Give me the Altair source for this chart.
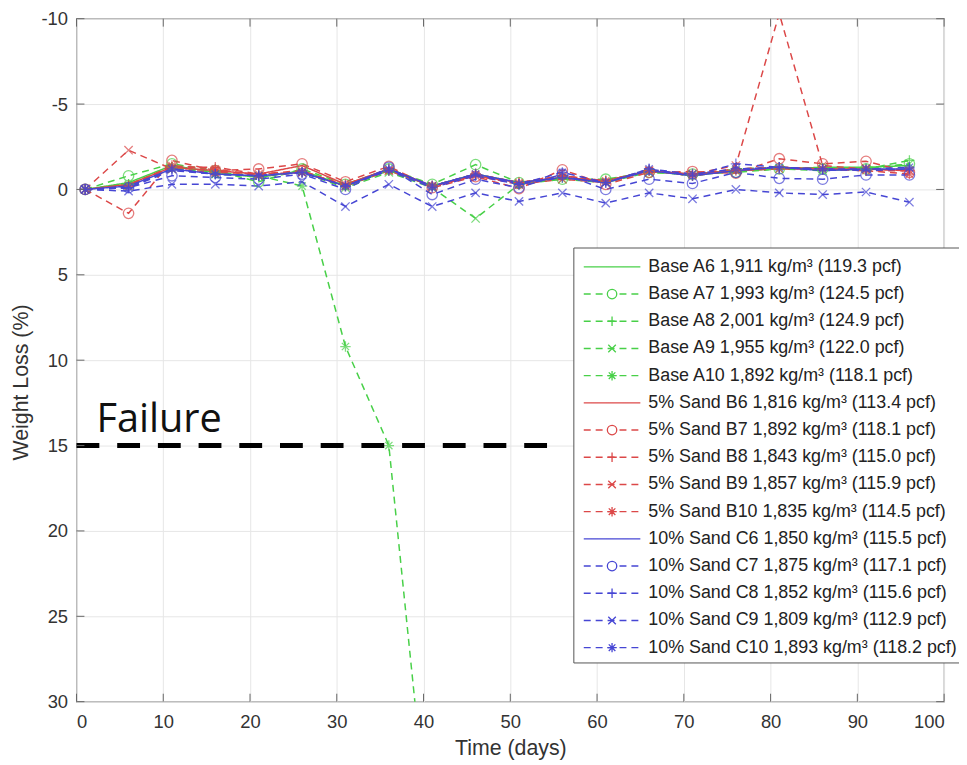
import altair as alt
import pandas as pd

# ---------------- data ----------------
days = [1, 6, 11, 16, 21, 26, 31, 36, 41, 46, 51, 56, 61, 66, 71, 76, 81, 86, 91, 96]

A6 = [0, -0.4, -1.4, -1.0, -0.7, -1.1, -0.2, -1.1, -0.2, -0.9, -0.4, -0.7, -0.5, -1.1, -0.8, -1.1, -1.2, -1.3, -1.3, -1.4]
A7 = [0, -0.8, -1.5, -1.1, -0.45, -1.2, -0.3, -1.2, -0.3, -1.45, -0.4, -0.6, -0.6, -1.0, -0.9, -1.0, -1.2, -1.2, -1.2, -1.5]
A8 = [0, -0.3, -1.3, -1.0, -0.8, -1.0, -0.2, -1.1, -0.2, -0.9, -0.3, -0.7, -0.5, -1.1, -0.8, -1.2, -1.3, -1.2, -1.2, -1.7]
A9 = [0, -0.2, -1.2, -0.9, -0.8, -1.0, -0.1, -1.0, -0.1, 1.7, -0.3, -0.6, -0.4, -1.0, -0.9, -1.1, -1.2, -1.1, -1.2, -1.5]
A10 = [0, -0.3, -1.3, -0.9, -0.8, -0.2, 9.2, 15.0, 40.0]

B6 = [0, -0.3, -1.3, -1.1, -0.9, -1.4, -0.3, -1.2, -0.2, -0.8, -0.4, -0.7, -0.5, -1.1, -0.9, -1.1, -1.3, -1.2, -1.2, -1.1]
B7 = [0, 1.4, -1.7, -1.1, -1.2, -1.5, -0.45, -1.35, -0.1, -0.75, -0.05, -1.15, -0.3, -1.0, -1.05, -0.95, -1.8, -1.5, -1.65, -1.0]
B8 = [0, -0.2, -1.3, -1.3, -0.9, -1.1, -0.2, -1.2, -0.2, -0.9, -0.4, -0.8, -0.5, -1.1, -0.9, -1.2, -1.3, -1.2, -1.1, -1.1]
B9 = [0, -2.3, -1.2, -1.0, -0.9, -1.0, -0.2, -1.1, -0.2, -0.8, -0.3, -0.6, -0.4, -1.1, -0.9, -1.4, -10.3, -1.4, -1.2, -1.1]
B10 = [0, -0.2, -1.4, -1.2, -0.8, -1.0, -0.3, -1.1, -0.2, -0.9, -0.4, -0.8, -0.5, -1.1, -0.8, -1.1, -1.2, -1.2, -1.1, -0.9]

C6 = [0, -0.2, -1.2, -0.9, -0.8, -1.0, -0.2, -1.2, -0.2, -0.9, -0.4, -0.7, -0.4, -1.1, -0.8, -1.1, -1.3, -1.1, -1.2, -1.2]
C7 = [0, -0.1, -0.8, -0.7, -0.6, -0.9, 0.0, -1.3, 0.3, -0.6, -0.1, -0.9, 0.0, -0.6, -0.35, -1.0, -0.65, -0.6, -0.85, -0.85]
C8 = [0, -0.1, -1.1, -0.9, -0.8, -1.0, -0.2, -1.1, -0.1, -0.8, -0.3, -0.7, -0.4, -1.2, -0.8, -1.5, -1.3, -1.2, -1.1, -1.2]
C9 = [0, 0.1, -0.3, -0.3, -0.2, -0.45, 1.0, -0.3, 1.0, 0.2, 0.7, 0.2, 0.8, 0.2, 0.55, 0.0, 0.2, 0.3, 0.15, 0.75]
C10 = [0, -0.1, -1.2, -0.9, -0.8, -1.0, -0.2, -1.2, -0.2, -0.9, -0.3, -1.0, -0.4, -1.2, -0.9, -1.2, -1.3, -1.2, -1.2, -1.3]

labels = [
    "Base A6 1,911 kg/m³ (119.3 pcf)",
    "Base A7 1,993 kg/m³ (124.5 pcf)",
    "Base A8 2,001 kg/m³ (124.9 pcf)",
    "Base A9 1,955 kg/m³ (122.0 pcf)",
    "Base A10 1,892 kg/m³ (118.1 pcf)",
    "5% Sand B6 1,816 kg/m³ (113.4 pcf)",
    "5% Sand B7 1,892 kg/m³ (118.1 pcf)",
    "5% Sand B8 1,843 kg/m³ (115.0 pcf)",
    "5% Sand B9 1,857 kg/m³ (115.9 pcf)",
    "5% Sand B10 1,835 kg/m³ (114.5 pcf)",
    "10% Sand C6 1,850 kg/m³ (115.5 pcf)",
    "10% Sand C7 1,875 kg/m³ (117.1 pcf)",
    "10% Sand C8 1,852 kg/m³ (115.6 pcf)",
    "10% Sand C9 1,809 kg/m³ (112.9 pcf)",
    "10% Sand C10 1,893 kg/m³ (118.2 pcf)",
]
groups = ["A"] * 5 + ["B"] * 5 + ["C"] * 5
markers = ["none", "circle", "plus", "x", "star"] * 3
dashes = ["solid", "dashed", "dashed", "dashed", "dashed"] * 3
series_values = [A6, A7, A8, A9, A10, B6, B7, B8, B9, B10, C6, C7, C8, C9, C10]

x_ticks = list(range(0, 101, 10))
y_ticks = list(range(-10, 31, 5))
failure_x = [0, 55]
failure_level = 15
failure_text = "Failure"
failure_text_pos = [2.3, 14.2]

# ---------------- tables ----------------
rows = []
for lab, g, m, d, vals in zip(labels, groups, markers, dashes, series_values):
    for t, v in zip(days, vals):
        rows.append(dict(series=lab, grp=g, marker=m, dash=d, day=t, loss=v))
df = pd.DataFrame(rows)
df_pts = df[df["marker"] != "none"]

W, H = 874, 688
leg = pd.DataFrame(dict(label=labels, grp=groups, marker=markers, dash=dashes,
                        ly=[250 + 27.4 * i for i in range(len(labels))]))
leg_pts = leg[leg["marker"] != "none"]

# ---------------- scales / axes ----------------
xs = alt.Scale(domain=[0, 100], nice=False, zero=False)
ys = alt.Scale(domain=[-10, 30], reverse=True, nice=False, zero=False)
color_enc = alt.Color("grp:N", scale=alt.Scale(domain=["A", "B", "C"],
                      range=["#48d048", "#dc4848", "#4646d4"]), legend=None)
dash_enc = alt.StrokeDash("dash:N", scale=alt.Scale(domain=["solid", "dashed"],
                          range=[[1, 0], [7, 5]]), legend=None)
shape_enc = alt.Shape("marker:N", scale=alt.Scale(
    domain=["circle", "plus", "x", "star"],
    range=["circle",
           "M-1,0H1M0,-1V1",
           "M-0.8,-0.8L0.8,0.8M-0.8,0.8L0.8,-0.8",
           "M-1,0H1M0,-1V1M-0.7,-0.7L0.7,0.7M-0.7,0.7L0.7,-0.7"]), legend=None)

xaxis = alt.Axis(values=x_ticks, title="Time (days)", grid=True, ticks=False, domain=False,
                 labelExpr="'' + datum.value", labelPadding=11,
                 titleX=437, titleY=53, titleBaseline="alphabetic", titleAlign="center")
yaxis = alt.Axis(values=y_ticks, title="Weight Loss (%)", grid=True, ticks=False, domain=False,
                 labelExpr="'' + datum.value", labelPadding=9,
                 titleX=-55, titleY=366, titleBaseline="middle", titleAlign="center", titleAngle=270)


def X(field):
    return alt.X(field, scale=xs, axis=xaxis)


def Y(field):
    return alt.Y(field, scale=ys, axis=yaxis)


lines = alt.Chart(df).mark_line(clip=True, strokeWidth=1.5).encode(
    x=X("day:Q"), y=Y("loss:Q"),
    color=color_enc, strokeDash=dash_enc, detail="series:N",
)

points = alt.Chart(df_pts).mark_point(clip=True, filled=False, strokeWidth=1.3, size=110).encode(
    x=X("day:Q"), y=Y("loss:Q"),
    color=color_enc, shape=shape_enc, detail="series:N",
)

fail_df = pd.DataFrame(dict(day=[failure_x[0]], day2=[failure_x[1]], loss=[failure_level]))
fail_line = alt.Chart(fail_df).mark_rule(color="black", strokeWidth=5, strokeDash=[23, 18]).encode(
    x=X("day:Q"), x2="day2:Q", y=Y("loss:Q"),
)
fail_txt_df = pd.DataFrame(dict(day=[failure_text_pos[0]], loss=[failure_text_pos[1]], t=[failure_text]))
fail_txt = alt.Chart(fail_txt_df).mark_text(align="left", baseline="alphabetic", font="Open Sans",
                                            fontSize=40, color="#111").encode(
    x=X("day:Q"), y=Y("loss:Q"), text="t:N")

# inward ticks on all four sides
xt_df = pd.DataFrame(dict(day=x_ticks))
yt_df = pd.DataFrame(dict(loss=y_ticks))
tick_style = dict(color="#666", strokeWidth=1)
tb = alt.Chart(xt_df).mark_rule(**tick_style).encode(
    x=X("day:Q"), y=alt.value(H), y2=alt.value(H - 8))
tt = alt.Chart(xt_df).mark_rule(**tick_style).encode(
    x=X("day:Q"), y=alt.value(0), y2=alt.value(8))
tl = alt.Chart(yt_df).mark_rule(**tick_style).encode(
    y=Y("loss:Q"), x=alt.value(0), x2=alt.value(8))
tr = alt.Chart(yt_df).mark_rule(**tick_style).encode(
    y=Y("loss:Q"), x=alt.value(W), x2=alt.value(W - 8))

# custom legend box (pixel layout, no data scales)
box_df = pd.DataFrame(dict(k=[0]))
leg_box = alt.Chart(box_df).mark_rect(fill="white", stroke="#555", strokeWidth=1).encode(
    x=alt.value(501), x2=alt.value(905), y=alt.value(231), y2=alt.value(649))
leg_lines = alt.Chart(leg).mark_rule(strokeWidth=1.4).encode(
    x=alt.value(511), x2=alt.value(568), y=alt.Y("ly:Q", scale=None, axis=None),
    color=color_enc, strokeDash=dash_enc)
leg_marks = alt.Chart(leg_pts).mark_point(filled=False, strokeWidth=1.3, size=90, fill="white", fillOpacity=1).encode(
    x=alt.value(539.5), y=alt.Y("ly:Q", scale=None, axis=None), color=color_enc, shape=shape_enc)
leg_text = alt.Chart(leg).mark_text(align="left", baseline="middle", font="Liberation Sans",
                                    fontSize=18, color="#222").encode(
    x=alt.value(576), y=alt.Y("ly:Q", scale=None, axis=None), text="label:N")

chart = alt.layer(
    lines, points, fail_line, fail_txt, tb, tt, tl, tr, leg_box, leg_lines, leg_marks, leg_text
).properties(
    width=W, height=H,
    autosize=alt.AutoSizeParams(type="none"),
    padding={"left": 69, "top": 8, "right": 15, "bottom": 58},
).configure_view(
    stroke="#8c8c8c", strokeWidth=1.3
).configure_axis(
    labelFont="Liberation Sans", labelFontSize=18.5, labelColor="#333",
    titleFont="Liberation Sans", titleFontSize=21.5, titleFontWeight="normal", titleColor="#333",
    gridColor="#e6e6e6", gridWidth=1,
)

chart.save("out.html", embed_options={"renderer": "svg", "actions": False})
